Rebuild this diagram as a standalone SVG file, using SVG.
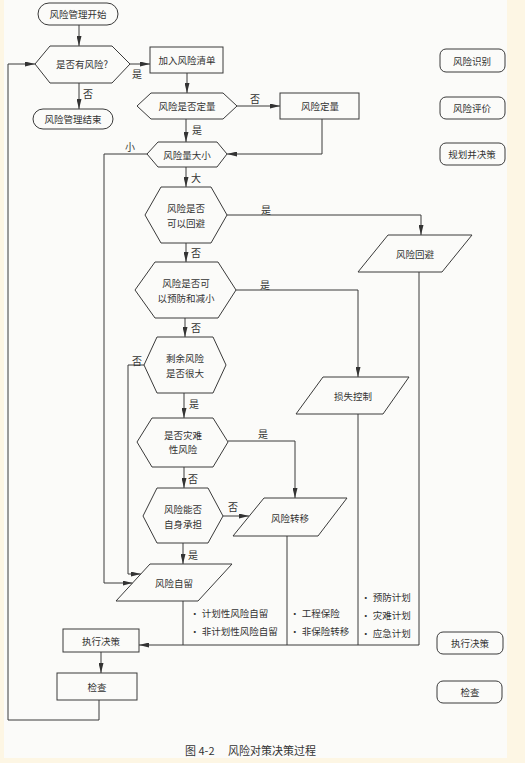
<svg xmlns="http://www.w3.org/2000/svg" width="525" height="763" viewBox="0 0 525 763">
<defs>
<marker id="ar" markerUnits="userSpaceOnUse" markerWidth="10" markerHeight="5" refX="10" refY="2.5" orient="auto">
<path d="M0,0 L10,2.5 L0,5 z" fill="#333"/>
</marker>
<style>
.n{fill:none;stroke:#3a3a3a;stroke-width:1}
.c{fill:none;stroke:#3a3a3a;stroke-width:1}
.a{marker-end:url(#ar)}
text{font-family:"Noto Sans CJK SC","Noto Sans",sans-serif;font-size:9.5px;fill:#333;text-anchor:middle;dominant-baseline:central}
.l{font-size:10px}
.b{text-anchor:start}
.cap{font-size:11px;text-anchor:start}
</style>
</defs>
<rect x="0" y="0" width="525" height="763" fill="#fdf6e4"/>
<rect x="4" y="0" width="503" height="758" fill="#fbfbf9"/>

<g id="connectors">
<path class="c a" d="M79,25 V46"/>
<path class="c a" d="M130,64 H150"/>
<path class="c a" d="M79,83 V109"/>
<path class="c a" d="M187,73 V93"/>
<path class="c a" d="M237,106 H280"/>
<path class="c a" d="M322,119 V154 H227"/>
<path class="c a" d="M186,119 V142"/>
<path class="c a" d="M147,154 H104 V583 H132.5"/>
<path class="c a" d="M186,167 V187"/>
<path class="c a" d="M227,215 H421 V235"/>
<path class="c a" d="M186,243 V262"/>
<path class="c a" d="M236,290 H358 V377"/>
<path class="c a" d="M185,318 V337"/>
<path class="c a" d="M144,365 H128 V574 H140.8"/>
<path class="c a" d="M184,393 V418"/>
<path class="c a" d="M228,441 H295 V498"/>
<path class="c a" d="M184,467 V488"/>
<path class="c a" d="M223,516 H249"/>
<path class="c a" d="M183,543 V564"/>
<path class="c" d="M183,601 V645"/>
<path class="c" d="M287,536 V645"/>
<path class="c" d="M358,414 V645"/>
<path class="c a" d="M419,272 V645 H139"/>
<path class="c a" d="M101,652 V673"/>
<path class="c a" d="M99,700 V720 H8 V64 H35"/>
<text class="l" x="137" y="73">是</text>
<text class="l" x="88" y="93">否</text>
<text class="l" x="255" y="98">否</text>
<text class="l" x="197" y="129">是</text>
<text class="l" x="130" y="146">小</text>
<text class="l" x="196" y="177">大</text>
<text class="l" x="266" y="209">是</text>
<text class="l" x="196" y="252">否</text>
<text class="l" x="265" y="284">是</text>
<text class="l" x="196" y="327">否</text>
<text class="l" x="137" y="360">否</text>
<text class="l" x="194" y="403">是</text>
<text class="l" x="263" y="433">是</text>
<text class="l" x="193" y="478">否</text>
<text class="l" x="233" y="506">否</text>
<text class="l" x="193" y="554">是</text>
</g>

<g id="start"><rect class="n" x="38" y="3" width="80" height="22" rx="11"/><text x="78" y="14">风险管理开始</text></g>
<g id="hasRisk"><polygon class="n" points="35,64 50,46 112,46 130,64 112,83 50,83"/><text x="82" y="64">是否有风险?</text></g>
<g id="end"><rect class="n" x="33" y="109" width="80" height="20" rx="10"/><text x="73" y="119">风险管理结束</text></g>
<g id="addList"><rect class="n" x="150" y="47" width="73" height="26"/><text x="187" y="60">加入风险清单</text></g>
<g id="quantifiedQ"><polygon class="n" points="137,106 151,93 223,93 237,106 223,119 151,119"/><text x="187" y="106">风险是否定量</text></g>
<g id="quantify"><rect class="n" x="280" y="93" width="79" height="26"/><text x="320" y="106">风险定量</text></g>
<g id="sizeQ"><polygon class="n" points="147,154 158,142 217,142 227,154 217,167 158,167"/><text x="187" y="155">风险量大小</text></g>
<g id="avoidQ"><polygon class="n" points="145,215 161,187 211,187 227,215 211,243 161,243"/><text x="186" y="208">风险是否</text><text x="186" y="223">可以回避</text></g>
<g id="preventQ"><polygon class="n" points="135,290 155,262 218,262 236,290 218,318 155,318"/><text x="186" y="283">风险是否可</text><text x="186" y="298">以预防和减小</text></g>
<g id="residualQ"><polygon class="n" points="144,365 157,337 213,337 226,365 213,393 157,393"/><text x="185" y="358">剩余风险</text><text x="185" y="373">是否很大</text></g>
<g id="disasterQ"><polygon class="n" points="137,442 152,418 213,418 228,442 213,467 152,467"/><text x="183" y="435">是否灾难</text><text x="183" y="449">性风险</text></g>
<g id="selfQ"><polygon class="n" points="143,516 157,488 208,488 223,516 208,543 157,543"/><text x="183" y="509">风险能否</text><text x="183" y="524">自身承担</text></g>
<g id="avoid"><polygon class="n" points="388,235 472,235 442,272 358,272"/><text x="415" y="254">风险回避</text></g>
<g id="lossCtrl"><polygon class="n" points="323,377 409,377 383,414 296,414"/><text x="353" y="396">损失控制</text></g>
<g id="transfer"><polygon class="n" points="264,498 347,498 318,536 233,536"/><text x="290" y="518">风险转移</text></g>
<g id="retain"><polygon class="n" points="150,564 232,564 198,601 116,601"/><text x="174" y="583">风险自留</text></g>
<g id="retainItems"><text class="b" x="190" y="613">• 计划性风险自留</text><text class="b" x="190" y="631">• 非计划性风险自留</text></g>
<g id="transferItems"><text class="b" x="290" y="613">• 工程保险</text><text class="b" x="290" y="631">• 非保险转移</text></g>
<g id="lossItems"><text class="b" x="361" y="597">• 预防计划</text><text class="b" x="361" y="615">• 灾难计划</text><text class="b" x="361" y="633">• 应急计划</text></g>
<g id="execute"><rect class="n" x="63" y="629" width="76" height="23"/><text x="101" y="641">执行决策</text></g>
<g id="check"><rect class="n" x="57" y="673" width="80" height="27"/><text x="97" y="687">检查</text></g>

<g id="stage1"><rect class="n" x="440" y="49" width="65" height="23" rx="6"/><text x="472" y="61">风险识别</text></g>
<g id="stage2"><rect class="n" x="440" y="97" width="65" height="22" rx="6"/><text x="472" y="108">风险评价</text></g>
<g id="stage3"><rect class="n" x="440" y="143" width="65" height="22" rx="6"/><text x="472" y="154">规划并决策</text></g>
<g id="stage4"><rect class="n" x="437" y="632" width="66" height="22" rx="6"/><text x="470" y="643">执行决策</text></g>
<g id="stage5"><rect class="n" x="437" y="681" width="65" height="22" rx="6"/><text x="470" y="692">检查</text></g>

<g id="caption"><text class="cap" x="185" y="750">图 4-2</text><text class="cap" x="228" y="750">风险对策决策过程</text></g>
</svg>
